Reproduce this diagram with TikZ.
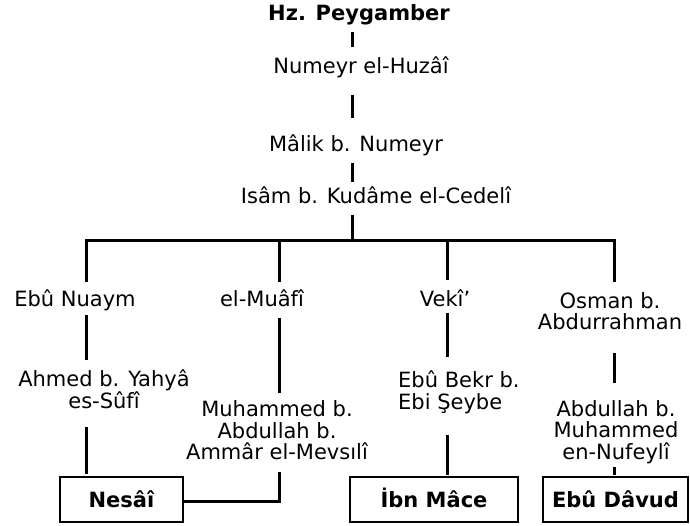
\documentclass[tikz,border=0pt]{standalone}
\usepackage{fontspec}
\setmainfont{DejaVu Sans}
\begin{document}
\begin{tikzpicture}[x=1pt,y=-1pt,
  txt/.style={inner sep=0pt, anchor=base, align=center, font=\fontsize{21}{21.5}\selectfont},
  endbox/.style={draw, line width=1.3pt, inner sep=0pt, minimum height=45pt,
    font=\bfseries\fontsize{21}{21.5}\selectfont, text height=15pt, text depth=0pt},
  link/.style={line width=3pt}]
\useasboundingbox (0,0) rectangle (690,526);
% texts (multi-line nodes are placed by the baseline of their last line)
\node[txt, font=\bfseries\fontsize{21}{21.5}\selectfont] (p) at (359,20.5) {Hz. Peygamber};
\node[txt] (n1) at (361,74) {Numeyr el-Huzâî};
\node[txt] (n2) at (356,152) {Mâlik b. Numeyr};
\node[txt] (n3) at (376,204) {Isâm b. Kudâme el-Cedelî};
\node[txt] (a1) at (75,306) {Ebû Nuaym};
\node[txt] (a2) at (104,408) {Ahmed b. Yahyâ\\es-Sûfî};
\node[txt] (b1) at (262,306) {el-Muâfî};
\node[txt] (b2) at (277,459.5) {Muhammed b.\\Abdullah b.\\Ammâr el-Mevsılî};
\node[txt] (c1) at (445,307) {Vekî’};
\node[txt, align=left, anchor=base west] (c2) at (398,409) {Ebû Bekr b.\\Ebi Şeybe};
\node[txt] (d1) at (610,330) {Osman b.\\Abdurrahman};
\node[txt] (d2) at (616,459) {Abdullah b.\\Muhammed\\en-Nufeylî};
% boxes
\node[endbox, minimum width=123pt] (nes) at (121.5,499.5) {Nesâî};
\node[endbox, minimum width=168pt] (ibn) at (434,499.5) {İbn Mâce};
\node[endbox, minimum width=145pt] (ebu) at (615.5,499.5) {Ebû Dâvud};
% connector ends
\coordinate (t1) at (352,32);  \coordinate (t2) at (352,47);
\coordinate (t3) at (352,95);  \coordinate (t4) at (352,118);
\coordinate (t5) at (352,163); \coordinate (t6) at (352,182);
\coordinate (t7) at (352,215); \coordinate (hub) at (352,241);
\coordinate (hl) at (86,241);  \coordinate (hr) at (614,241);
\coordinate (a1t) at (86,282); \coordinate (b1t) at (279,282);
\coordinate (c1t) at (447,280); \coordinate (d1t) at (614,282);
\coordinate (hb) at (279,241); \coordinate (hc) at (447,241);
\coordinate (a1b) at (86,315); \coordinate (a2t) at (86,360);
\coordinate (b1b) at (279,318); \coordinate (b2t) at (279,393);
\coordinate (c1b) at (447,313); \coordinate (c2t) at (447,357);
\coordinate (d1b) at (614,353); \coordinate (d2t) at (614,383);
\coordinate (a2b) at (86,427);  \coordinate (a2e) at (86,474);
\coordinate (b2b) at (279,472); \coordinate (bk) at (279,501);
\coordinate (c2b) at (447,435); \coordinate (c2e) at (447,475);
\coordinate (d2b) at (614,467); \coordinate (d2e) at (614,475);
% connectors
\draw[link] (t1) -- (t2);
\draw[link] (t3) -- (t4);
\draw[link] (t5) -- (t6);
\draw[link] (t7) -- (hub);
\draw[link] (a1t) -- (hl) -- (hr) -- (d1t);
\draw[link] (hb) -- (b1t);
\draw[link] (hc) -- (c1t);
\draw[link] (a1b) -- (a2t);
\draw[link] (b1b) -- (b2t);
\draw[link] (c1b) -- (c2t);
\draw[link] (d1b) -- (d2t);
\draw[link] (a2b) -- (a2e);
\draw[link] (b2b) -- (bk) -- (bk -| nes.east);
\draw[link] (c2b) -- (c2e);
\draw[link] (d2b) -- (d2e);
\end{tikzpicture}
\end{document}
